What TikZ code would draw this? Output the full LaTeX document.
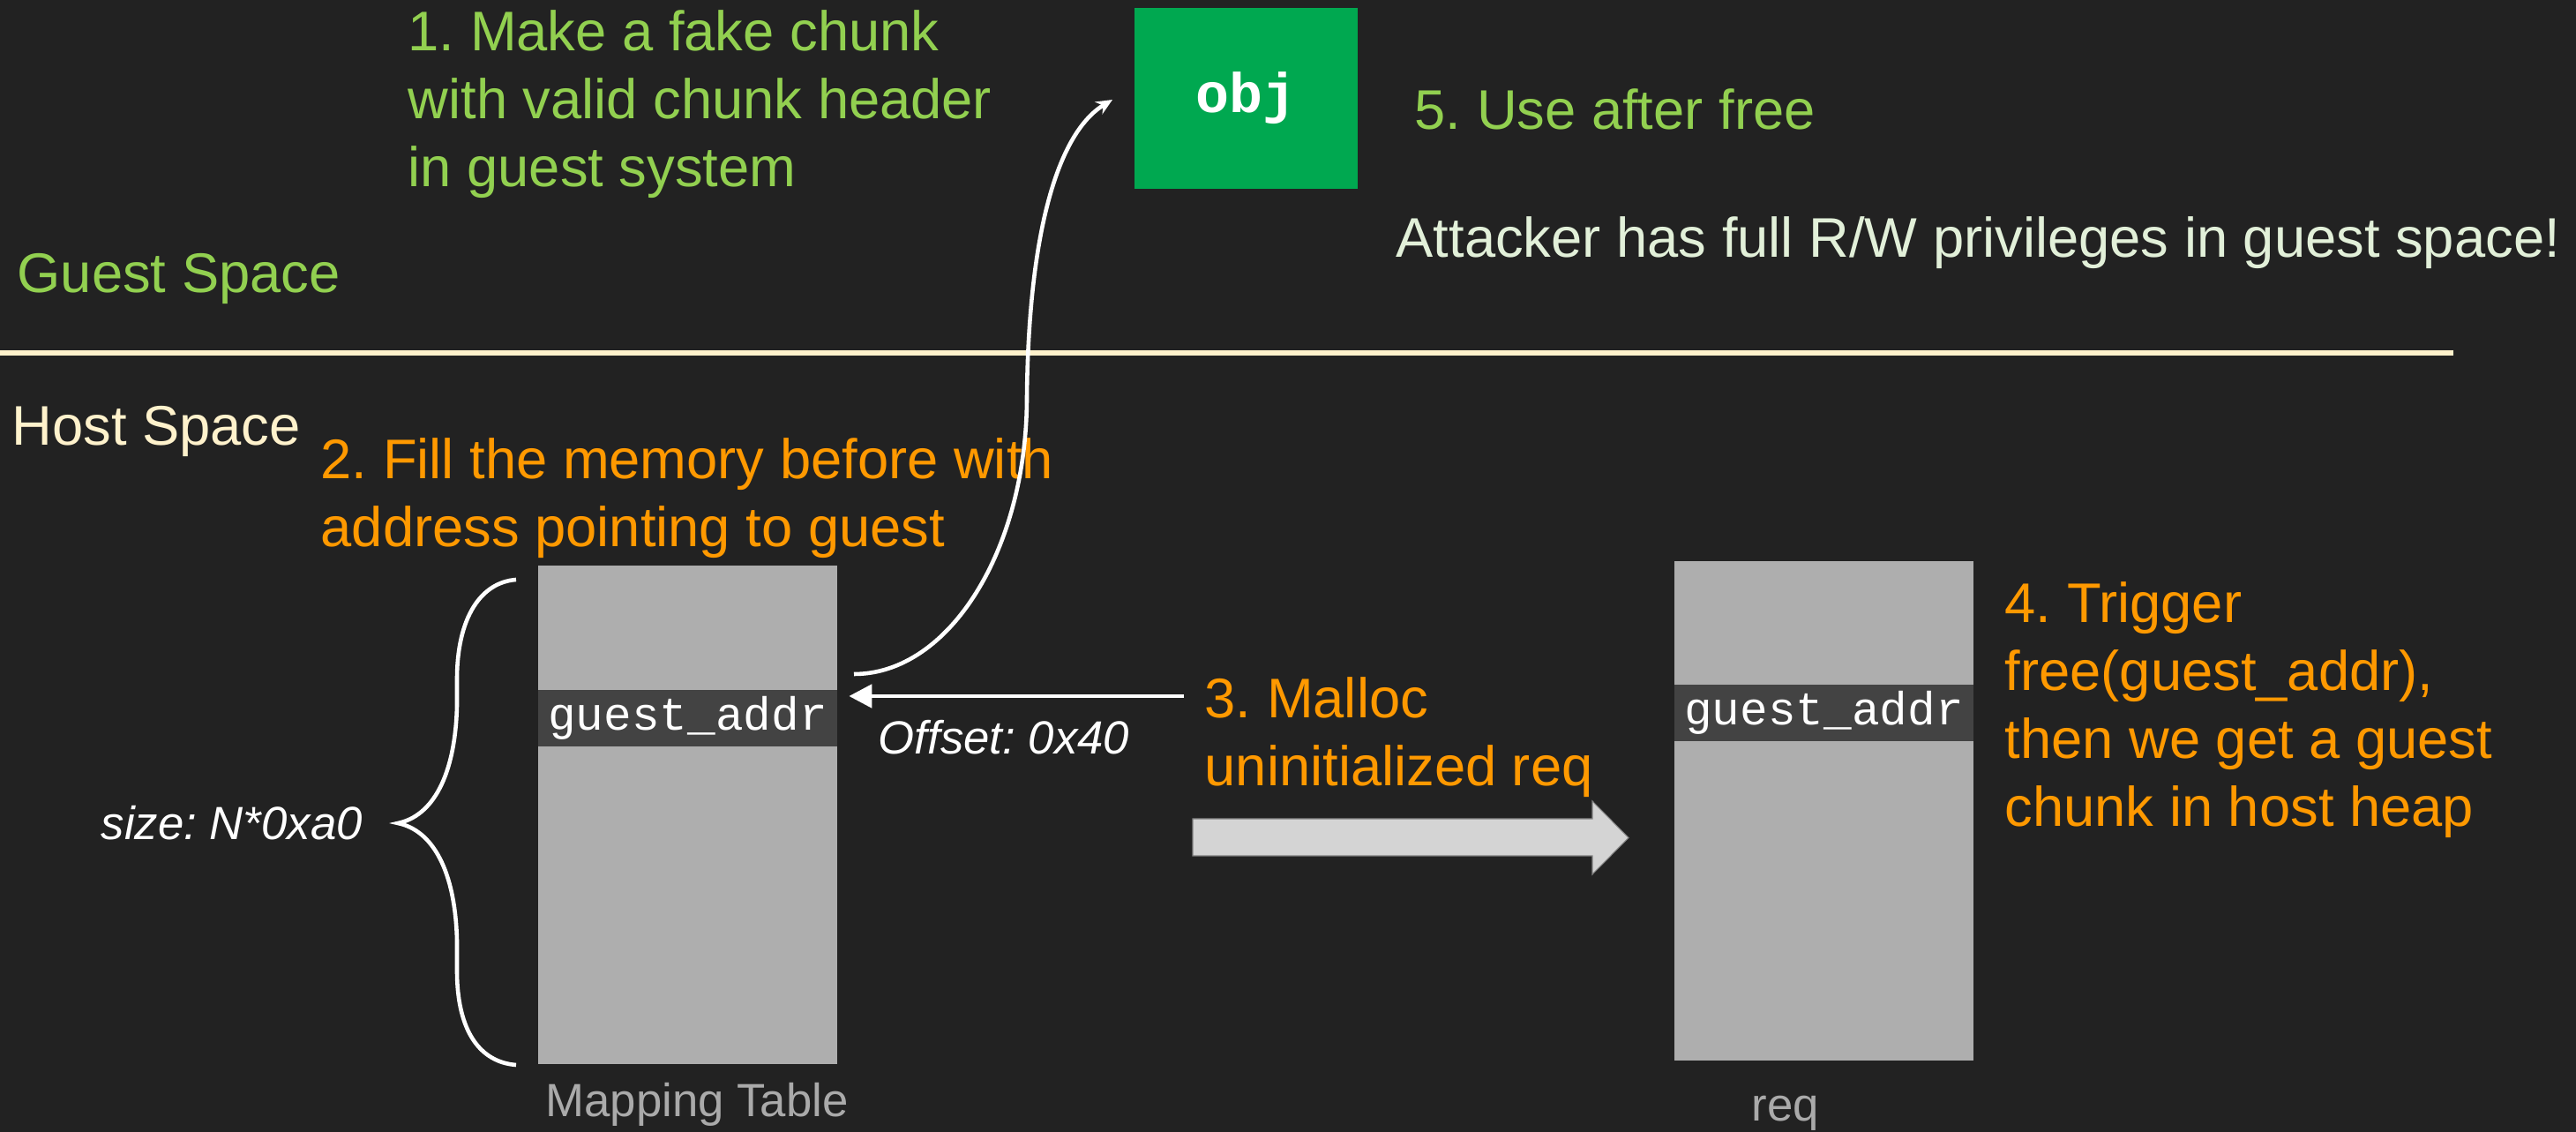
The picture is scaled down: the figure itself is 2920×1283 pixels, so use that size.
\documentclass[tikz,border=0pt]{standalone}
\usepackage{fontspec}
\setmainfont{Liberation Sans}
\setmonofont{Liberation Mono}
\usetikzlibrary{arrows.meta}
\frenchspacing
\definecolor{slidebg}{RGB}{34,34,34}
\definecolor{guestgreen}{RGB}{146,208,80}
\definecolor{steporange}{RGB}{255,153,0}
\definecolor{objgreen}{RGB}{0,168,80}
\definecolor{hostcream}{RGB}{255,242,204}
\definecolor{palegreen}{RGB}{226,240,217}
\definecolor{memgray}{RGB}{174,174,174}
\definecolor{slotgray}{RGB}{67,67,67}
\definecolor{labelgray}{RGB}{170,170,170}
\definecolor{fatgray}{RGB}{212,212,212}

\tikzset{
    bigtext/.style={font=\fontsize{18}{21.9}\selectfont, inner sep=0pt, align=left, anchor=base west},
    labeltext/.style={font=\fontsize{15}{18}\selectfont, inner sep=0pt, anchor=base, text=labelgray},
    notetext/.style={font=\itshape\fontsize{15}{18}\selectfont, inner sep=0pt, anchor=base west, text=white},
    membox/.style={rectangle, fill=memgray, minimum width=3.38cm, minimum height=5.65cm, inner sep=0pt},
    slotbox/.style={rectangle, fill=slotgray, text=white, minimum width=3.38cm, minimum height=0.64cm, inner sep=0pt, font=\ttfamily\fontsize{15}{18}\selectfont},
}

\begin{document}
\begin{tikzpicture}[x=0.01cm, y=-0.01cm]
    \fill[slidebg] (0,0) rectangle (2920,1283);
    \useasboundingbox (0,0) rectangle (2920,1283);

    % guest / host split
    \draw[hostcream, line width=1.5pt] (0,400) -- (2781,400);
    \node[bigtext, text=guestgreen] (guestlbl) at (19,332) {Guest Space};
    \node[bigtext, text=hostcream] (hostlbl) at (13,505) {Host Space};

    % guest side (multi-line texts sit on their last baseline)
    \node[bigtext, text=guestgreen] (step1) at (462,212) {1. Make a fake chunk\\with valid chunk header\\in guest system};
    \node[rectangle, fill=objgreen, minimum width=2.53cm, minimum height=2.05cm, inner sep=0pt, text=white, font=\ttfamily\bfseries\fontsize{18}{21}\selectfont] (objbox) at (1412.5,111.5) {obj};
    \node[bigtext, text=guestgreen] (step5) at (1603,147) {5. Use after free};
    \node[bigtext, text=palegreen] (attacker) at (1582,292) {Attacker has full R/W privileges in guest space!};

    % host side
    \node[bigtext, text=steporange] (step2) at (363,620) {2. Fill the memory before with\\address pointing to guest};
    \node[membox] (maptab) at (779.5,923.5) {};
    \node[slotbox] (mapslot) at (779.5,814) {guest\_addr};
    \node[labeltext] (maplbl) at (790,1266) {Mapping Table};

    \node[membox] (reqbox) at (2067.5,919) {};
    \node[slotbox] (reqslot) at (2067.5,808) {guest\_addr};
    \node[labeltext] (reqlbl) at (2024,1271) {req};

    \node[notetext] (sizelbl) at (114,952) {size: N*0xa0};
    \node[notetext] (offsetlbl) at (995,855) {Offset: 0x40};
    \node[bigtext, text=steporange] (step3) at (1365,891) {3. Malloc\\uninitialized req};
    \node[bigtext, text=steporange] (step4) at (2272,937) {4. Trigger\\free(guest\_addr),\\then we get a guest\\chunk in host heap};

    % brace over the whole table
    \draw[white, line width=1.3pt] (585,657) .. controls (545,660) and (518,700) .. (518,770) -- (518,800)
        .. controls (516,880) and (490,925) .. (451,933)
        .. controls (490,941) and (516,986) .. (518,1066) -- (518,1100)
        .. controls (518,1170) and (545,1204) .. (585,1207);

    % pointer into guest memory
    \coordinate (ptrout) at (968,764);
    \coordinate (objin) at (1261,113);
    \draw[white, line width=1.3pt, -{Stealth[length=5.2pt, width=4.6pt]}] (ptrout) .. controls (1076,764) and (1164,623) .. (1164,450)
        .. controls (1166,260) and (1200,150) .. (objin);

    % offset arrow
    \coordinate (offin) at (1342,789);
    \draw[white, line width=1.4pt, -{Triangle[length=7.4pt, width=7.4pt]}, shorten >=0.13cm] (offin) -- (offin -| maptab.east);

    % malloc arrow
    \draw[fill=fatgray, draw=gray, line width=0.3pt] (1352,928) -- (1805,928) -- (1805,908) -- (1846,949.5)
        -- (1805,991) -- (1805,970) -- (1352,970) -- cycle;
\end{tikzpicture}
\end{document}
